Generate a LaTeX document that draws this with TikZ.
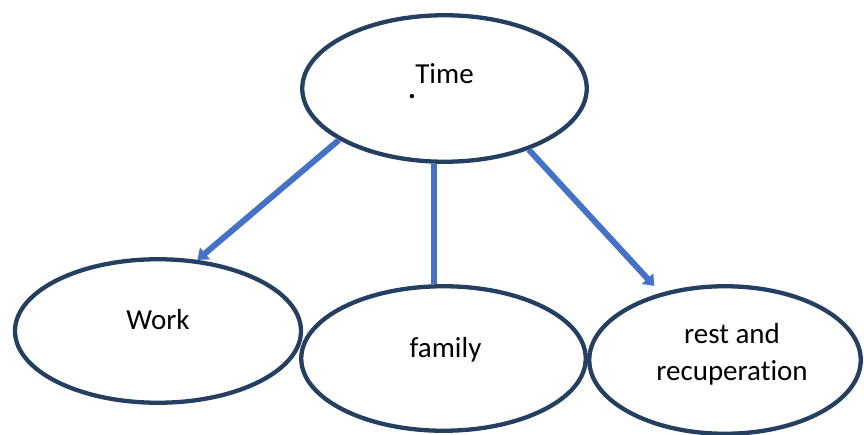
\documentclass[tikz,border=0pt]{standalone}
\usepackage{fontspec}
\setmainfont[Ligatures=CommonOff]{Carlito}
\usetikzlibrary{shapes.geometric,arrows.meta}
\definecolor{bubbleline}{RGB}{36,63,96}
\definecolor{linkblue}{RGB}{68,114,196}
\tikzset{
  bubble/.style={ellipse,draw=bubbleline,line width=4.3pt,inner sep=0pt},
  word/.style={font=\fontsize{29}{37}\selectfont,inner sep=0pt,align=center},
  link/.style={draw=linkblue,line width=6pt},
  tip/.style={-{Triangle[width=15pt,length=10pt]}}
}
\begin{document}
\begin{tikzpicture}[x=1pt,y=1pt]
      \useasboundingbox (0,0) rectangle (864,434);
      \node[bubble,minimum width=284.5pt,minimum height=146.5pt] (time) at (444.5,345.5) {};
      \node[bubble,minimum width=286pt,minimum height=143.5pt] (work) at (158,103) {};
      \node[bubble,minimum width=284.5pt,minimum height=144.5pt] (family) at (443.5,75.5) {};
      \node[bubble,minimum width=271.5pt,minimum height=147.5pt] (rest) at (725,74) {};
      \node[word] (timetext) at (444.5,360) {Time};
      \node[word] (dot) at (412,337) {\textbf{.}};
      \node[word] (worktext) at (158,114) {Work};
      \node[word] (familytext) at (445.5,84) {family};
      \node[word] (resttext) at (732,80) {rest and\\recuperation};
      \begin{scope}[link]
        \draw[tip] (time.206) to (work.61);
        \draw (time.262) to (time.262 |- family.north);
        \draw[tip] (time.324) to ([shift={(-6,7)}]rest.134);
      \end{scope}
    \end{tikzpicture}
\end{document}
